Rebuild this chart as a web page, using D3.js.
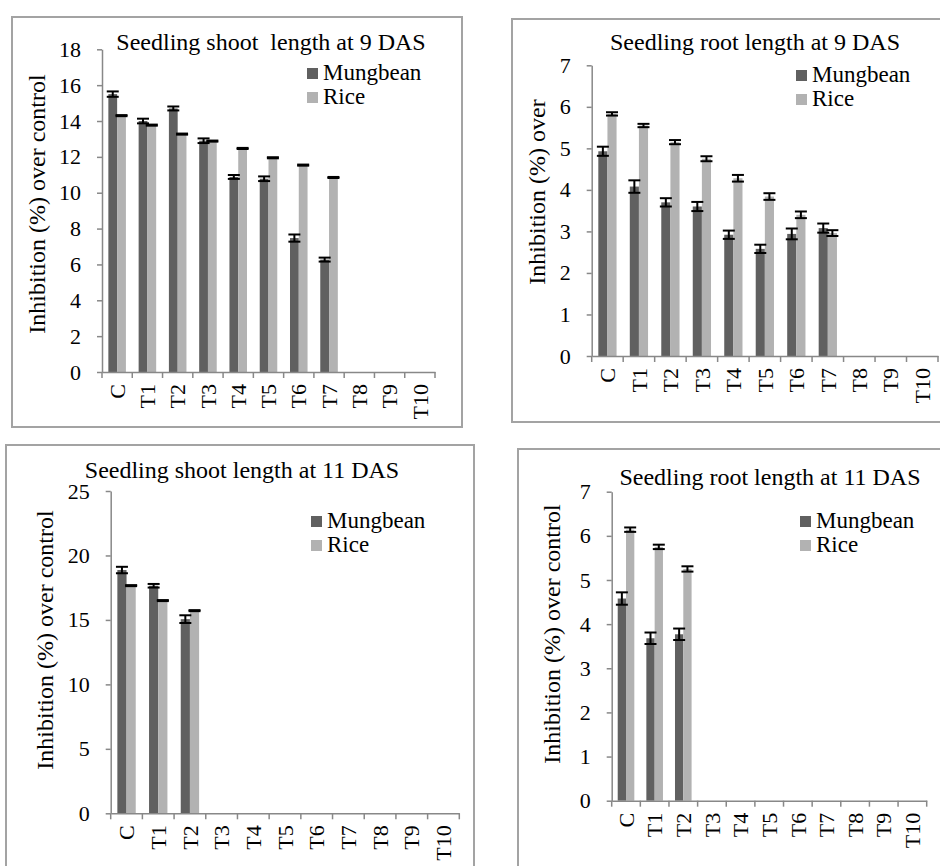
<!DOCTYPE html>
<html>
<head>
<meta charset="utf-8">
<script src="https://cdn.jsdelivr.net/npm/d3@7"></script>
<style>
  body { margin: 0; background: #fff; }
  svg text { font-family: "Liberation Serif", "Times New Roman", serif; fill: #000; }
</style>
</head>
<body>
<svg id="chart" width="940" height="866"></svg>
<script>
// treatment categories (same on every panel)
const categories = ["C", "T1", "T2", "T3", "T4", "T5", "T6", "T7", "T8", "T9", "T10"];
const seriesNames = ["Mungbean", "Rice"];

// shoot length, 9 DAS
const shoot9Mungbean    = [15.5, 14.0, 14.7, 12.9, 10.88, 10.78, 7.47, 6.27];
const shoot9MungbeanErr = [0.15, 0.13, 0.11, 0.13, 0.11, 0.13, 0.2, 0.11];
const shoot9Rice        = [14.3, 13.77, 13.27, 12.88, 12.47, 11.95, 11.54, 10.85];
const shoot9RiceErr     = [0.03, 0.03, 0.03, 0.03, 0.03, 0.03, 0.03, 0.03];
const shoot9Ticks       = [0, 2, 4, 6, 8, 10, 12, 14, 16, 18];

// root length, 9 DAS
const root9Mungbean    = [4.93, 4.08, 3.7, 3.6, 2.92, 2.58, 2.94, 3.08];
const root9MungbeanErr = [0.11, 0.15, 0.1, 0.11, 0.1, 0.1, 0.13, 0.11];
const root9Rice        = [5.83, 5.55, 5.15, 4.75, 4.28, 3.84, 3.4, 2.96];
const root9RiceErr     = [0.04, 0.04, 0.05, 0.06, 0.08, 0.08, 0.08, 0.07];
const root9Ticks       = [0, 1, 2, 3, 4, 5, 6, 7];

// shoot length, 11 DAS
const shoot11Mungbean    = [18.87, 17.65, 15.06];
const shoot11MungbeanErr = [0.25, 0.14, 0.3];
const shoot11Rice        = [17.66, 16.5, 15.72];
const shoot11RiceErr     = [0.04, 0.04, 0.04];
const shoot11Ticks       = [0, 5, 10, 15, 20, 25];

// root length, 11 DAS
const root11Mungbean    = [4.58, 3.68, 3.77];
const root11MungbeanErr = [0.14, 0.13, 0.13];
const root11Rice        = [6.14, 5.75, 5.25];
const root11RiceErr     = [0.05, 0.05, 0.06];
const root11Ticks       = [0, 1, 2, 3, 4, 5, 6, 7];

const colors = ["#606060", "#b2b2b2"];
const FONT = "'Liberation Serif', 'Times New Roman', serif";

/* ---------- panel layout ---------- */
const panels = [
  { title: "Seedling shoot  length at 9 DAS", ylabel: "Inhibition (%) over control",
    mung: shoot9Mungbean, mungErr: shoot9MungbeanErr, rice: shoot9Rice, riceErr: shoot9RiceErr, ticks: shoot9Ticks,
    box: [12, 17, 450, 410], plot: { l: 102, r: 435, t: 49.3, b: 372 },
    titleXY: [271, 50], ylabXY: [37, 204], legXY: [307, 68] },
  { title: "Seedling root length at 9 DAS", ylabel: "Inhibition (%) over",
    mung: root9Mungbean, mungErr: root9MungbeanErr, rice: root9Rice, riceErr: root9RiceErr, ticks: root9Ticks,
    box: [512, 19, 460, 403], plot: { l: 591.7, r: 938, t: 65.3, b: 356 },
    titleXY: [755, 50], ylabXY: [537, 192], legXY: [796, 70] },
  { title: "Seedling shoot length at 11 DAS", ylabel: "Inhibition (%) over control",
    mung: shoot11Mungbean, mungErr: shoot11MungbeanErr, rice: shoot11Rice, riceErr: shoot11RiceErr, ticks: shoot11Ticks,
    box: [6, 445, 468, 440], plot: { l: 110.7, r: 459.3, t: 491, b: 813.3 },
    titleXY: [242, 478], ylabXY: [45, 640], legXY: [311, 516] },
  { title: "Seedling root length at 11 DAS", ylabel: "Inhibition (%) over control",
    mung: root11Mungbean, mungErr: root11MungbeanErr, rice: root11Rice, riceErr: root11RiceErr, ticks: root11Ticks,
    box: [518, 449, 460, 440], plot: { l: 611.7, r: 926.7, t: 491.7, b: 800.7 },
    titleXY: [770, 485], ylabXY: [552, 634], legXY: [800, 516] }
];

const svg = d3.select("#chart").attr("font-family", FONT);

panels.forEach(p => {
  const g = svg.append("g");

  // frame
  g.append("rect")
    .attr("x", p.box[0]).attr("y", p.box[1])
    .attr("width", p.box[2]).attr("height", p.box[3])
    .attr("fill", "none").attr("stroke", "#a3a3a3").attr("stroke-width", 2);

  const x = d3.scaleBand().domain(categories).range([p.plot.l, p.plot.r]);
  const y = d3.scaleLinear().domain([0, d3.max(p.ticks)]).range([p.plot.b, p.plot.t]);
  const bw = x.bandwidth() * 0.29;

  // y axis
  const ya = g.append("g")
    .attr("transform", `translate(${p.plot.l},0)`)
    .call(d3.axisLeft(y).tickValues(p.ticks).tickSize(5).tickPadding(16).tickSizeOuter(0).tickFormat(d => d))
    .attr("font-family", FONT).attr("font-size", 22);
  ya.select(".domain").attr("stroke", "#888").attr("stroke-width", 1.5);
  ya.selectAll(".tick line").attr("stroke", "#888").attr("stroke-width", 1.5);
  ya.selectAll(".tick text").attr("fill", "#000");

  // bars
  const rows = [];
  p.mung.forEach((v, i) => rows.push({ cat: categories[i], s: 0, v, e: p.mungErr[i] }));
  p.rice.forEach((v, i) => rows.push({ cat: categories[i], s: 1, v, e: p.riceErr[i] }));

  const bx = d => x(d.cat) + x.bandwidth() / 2 - bw + d.s * bw;

  g.selectAll("rect.bar").data(rows).join("rect")
    .attr("class", "bar")
    .attr("x", bx)
    .attr("y", d => y(d.v))
    .attr("width", bw)
    .attr("height", d => y(0) - y(d.v))
    .attr("fill", d => colors[d.s]);

  // error bars
  const eb = g.selectAll("g.err").data(rows).join("g").attr("class", "err")
    .attr("stroke", "#000").attr("stroke-width", 2);
  eb.append("line")
    .attr("x1", d => bx(d) + bw / 2).attr("x2", d => bx(d) + bw / 2)
    .attr("y1", d => y(d.v + d.e)).attr("y2", d => y(d.v - d.e));
  [1, -1].forEach(sg => {
    eb.append("line")
      .attr("x1", d => bx(d) + bw / 2 - 6).attr("x2", d => bx(d) + bw / 2 + 6)
      .attr("y1", d => y(d.v + sg * d.e)).attr("y2", d => y(d.v + sg * d.e));
  });

  // x axis
  const xa = g.append("g")
    .attr("transform", `translate(0,${p.plot.b})`)
    .call(d3.axisBottom(x).tickSize(0).tickSizeOuter(0))
    .attr("font-family", FONT).attr("font-size", 22);
  xa.select(".domain").attr("stroke", "#888").attr("stroke-width", 1.5);
  xa.selectAll(".tick text")
    .attr("transform", "rotate(-90)")
    .attr("x", -12).attr("y", 0).attr("dy", "0.35em")
    .style("text-anchor", "end")
    .attr("fill", "#000");
  // boundary ticks between categories
  g.selectAll("line.xt").data(categories.concat(["end"])).join("line")
    .attr("class", "xt")
    .attr("x1", (d, i) => p.plot.l + i * x.step()).attr("x2", (d, i) => p.plot.l + i * x.step())
    .attr("y1", p.plot.b).attr("y2", p.plot.b + 6)
    .attr("stroke", "#888").attr("stroke-width", 1.5);

  // title
  g.append("text")
    .attr("x", p.titleXY[0]).attr("y", p.titleXY[1])
    .attr("text-anchor", "middle")
    .style("font-size", "24px")
    .style("white-space", "pre")
    .text(p.title);

  // y label
  g.append("text")
    .attr("transform", `translate(${p.ylabXY[0]},${p.ylabXY[1]}) rotate(-90)`)
    .attr("text-anchor", "middle")
    .attr("dy", "0.35em")
    .style("font-size", "24px")
    .text(p.ylabel);

  // legend
  const lg = g.append("g").attr("transform", `translate(${p.legXY[0]},${p.legXY[1]})`);
  seriesNames.forEach((name, i) => {
    lg.append("rect").attr("x", 0).attr("y", i * 24).attr("width", 11).attr("height", 11).attr("fill", colors[i]);
    lg.append("text").attr("x", 16).attr("y", i * 24 + 12).style("font-size", "23px").text(name);
  });
});
</script>
</body>
</html>
